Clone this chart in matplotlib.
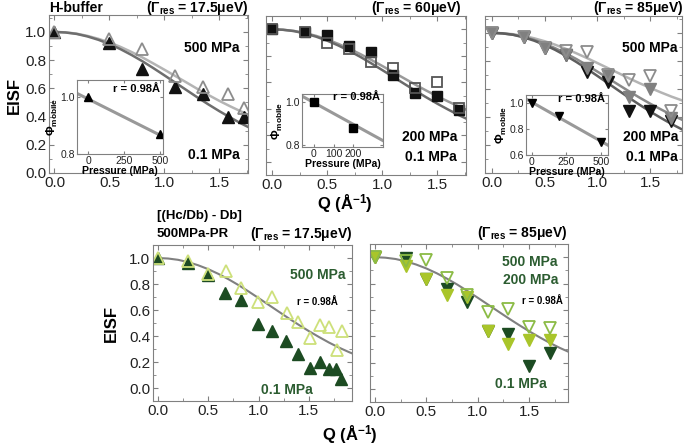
import matplotlib
matplotlib.use('Agg')
import matplotlib.pyplot as plt
from matplotlib.ticker import MultipleLocator, FormatStrFormatter

plt.rcParams['font.family'] = ['Liberation Sans', 'DejaVu Sans']
plt.rcParams['mathtext.fontset'] = 'custom'
plt.rcParams['mathtext.rm'] = 'Liberation Sans'
plt.rcParams['mathtext.bf'] = 'Liberation Sans:bold'
plt.rcParams['mathtext.it'] = 'Liberation Sans:italic'

# fitted EISF curves
q_fit = [0.0, 0.1, 0.2, 0.3, 0.4, 0.5, 0.6, 0.7, 0.8, 0.9, 1.0,
         1.1, 1.2, 1.3, 1.4, 1.5, 1.6, 1.7, 1.8, 1.9, 2.0]
fit_01 = [1.0, .996, .986, .968, .944, .914, .878, .837, .792, .743, .692,
          .640, .588, .536, .486, .438, .393, .350, .311, .276, .245]
fit_p1_500 = [1.0, .997, .988, .972, .951, .925, .894, .858, .819, .776, .732,
              .687, .642, .596, .553, .511, .472, .435, .401, .370, .343]
fit_200 = [1.0, .996, .987, .971, .950, .923, .890, .853, .813, .769, .723,
           .676, .629, .582, .537, .494, .454, .415, .380, .348, .321]
fit_p3_500 = [1.0, .997, .990, .978, .961, .940, .915, .886, .854, .820, .784,
              .748, .712, .675, .640, .607, .575, .545, .518, .493, .472]

# H-buffer, 17.5 ueV
p1_q = [0.0, 0.5, 0.8, 1.1, 1.35, 1.58, 1.72]
p1_500 = [1.0, 0.95, 0.88, 0.69, 0.61, 0.56, 0.46]
p1_01 = [1.0, 0.92, 0.74, 0.61, 0.56, 0.40, 0.40]

# H-buffer, 60 ueV
p2_q = [0.0, 0.3, 0.5, 0.7, 0.9, 1.1, 1.3, 1.5, 1.7]
p2_200 = [1.0, 0.98, 0.90, 0.85, 0.755, 0.705, 0.557, 0.60, 0.405]
p2_01 = [1.0, 0.98, 0.96, 0.87, 0.83, 0.654, 0.52, 0.494, 0.388]

# H-buffer, 85 ueV
p3_q = [0.0, 0.3, 0.5, 0.7, 0.9, 1.1, 1.3, 1.5, 1.7]
p3_500 = [1.0, 0.97, 0.89, 0.87, 0.86, 0.70, 0.66, 0.69, 0.44]
p3_200 = [1.0, 0.97, 0.89, 0.845, 0.75, 0.695, 0.544, 0.60, 0.39]
p3_01 = [1.0, 0.97, 0.89, 0.845, 0.72, 0.65, 0.44, 0.44, 0.37]

# insets: mobile fraction vs pressure
in1_p, in1_phi = [0, 500], [1.0, 0.87]
in1_line_p, in1_line = [-80, 520], [1.013, 0.861]
in2_p, in2_phi = [0, 200], [1.0, 0.88]
in2_line_p, in2_line = [-60, 350], [1.03, 0.82]
in3_p, in3_phi = [0, 200, 500], [1.0, 0.90, 0.70]
in3_line_p, in3_line = [-40, 550], [1.03, 0.675]

# [(Hc/Db) - Db] 500MPa-PR, 17.5 ueV
bl_q_500 = [0.0, 0.3, 0.5, 0.68, 0.83, 0.99, 1.13, 1.28, 1.39, 1.51, 1.61, 1.70, 1.78, 1.83]
bl_500 = [1.0, 0.98, 0.88, 0.90, 0.77, 0.665, 0.70, 0.575, 0.505, 0.385, 0.487, 0.47, 0.29, 0.437]
bl_q_01 = [0.0, 0.3, 0.5, 0.67, 0.83, 0.99, 1.13, 1.27, 1.39, 1.51, 1.61, 1.70, 1.77, 1.82]
bl_01 = [1.0, 0.96, 0.87, 0.73, 0.68, 0.495, 0.44, 0.36, 0.26, 0.157, 0.20, 0.145, 0.145, 0.07]

# [(Hc/Db) - Db] 500MPa-PR, 85 ueV
br_q = [0.0, 0.3, 0.5, 0.7, 0.9, 1.1, 1.3, 1.5, 1.7]
br_500 = [1.0, 0.97, 0.975, 0.84, 0.71, 0.58, 0.61, 0.47, 0.46]
br_200 = [1.0, 0.93, 0.835, 0.71, 0.70, 0.44, 0.34, 0.37, 0.37]
br_01 = [1.0, 0.99, 0.835, 0.76, 0.66, 0.44, 0.42, 0.17, 0.27]

W, H = 685, 446
GREY = '#808080'
DKGREEN = '#1c4b22'
TXTGREEN = '#2b5c30'


def rect(l, t, r, b):
    return [l / W, 1 - b / H, (r - l) / W, (b - t) / H]


def ftext(x, y, s, **kw):
    kw.setdefault('fontweight', 'bold')
    kw.setdefault('va', 'center')
    fig.text(x / W, 1 - y / H, s, **kw)


def style(ax, xlim, ylim, ylabels=True):
    ax.set_xlim(*xlim)
    ax.set_ylim(*ylim)
    ax.set_xticks([0, 0.5, 1.0, 1.5])
    ax.xaxis.set_minor_locator(MultipleLocator(0.25))
    ax.set_yticks([0, 0.2, 0.4, 0.6, 0.8, 1.0])
    ax.yaxis.set_minor_locator(MultipleLocator(0.1))
    ax.xaxis.set_major_formatter(FormatStrFormatter('%.1f'))
    ax.yaxis.set_major_formatter(FormatStrFormatter('%.1f'))
    ax.tick_params(which='both', direction='in', top=True, right=True,
                   color=GREY, labelsize=11, labelcolor='#222222', pad=2)
    ax.tick_params(which='major', length=3.5)
    ax.tick_params(which='minor', length=2)
    ax.tick_params(labelleft=ylabels)
    for s in ax.spines.values():
        s.set_color(GREY)


def inset(box, p, phi, lp, lv, xlim, ylim, xt, yt, marker):
    ax = fig.add_axes(rect(*box))
    ax.plot(lp, lv, color='#999999', lw=2.2)
    ax.plot(p, phi, marker, color='black', ms=6, ls='none')
    ax.set_xlim(*xlim)
    ax.set_ylim(*ylim)
    ax.set_xticks(xt)
    ax.set_yticks(yt)
    ax.yaxis.set_major_formatter(FormatStrFormatter('%.1f'))
    ax.tick_params(direction='in', top=True, right=True, color=GREY,
                   labelsize=7.5, labelcolor='#222222', length=2.5, pad=1.5)
    for s in ax.spines.values():
        s.set_color(GREY)
    ax.set_xlabel('Pressure (MPa)', fontsize=7.5, fontweight='bold', labelpad=0)
    ax.set_ylabel(r'$\mathbf{\Phi_{mobile}}$', fontsize=8.5, labelpad=0)
    return ax


fig = plt.figure(figsize=(W / 100, H / 100), dpi=100)

# ---- top left: 17.5 ueV
ax1 = fig.add_axes(rect(49, 15, 248, 173))
ax1.plot(q_fit, fit_p1_500, color='#b4b4b4', lw=1.8)
ax1.plot(q_fit, fit_01, color='#6e6e6e', lw=1.8)
ax1.plot(p1_q, p1_01, '^', color='#111111', ms=9, ls='none')
ax1.plot(p1_q, p1_500, '^', mfc='none', mec='#8c8c8c', mew=1.3, ms=9, ls='none')
style(ax1, (-0.05, 1.76), (0, 1.12))
inset((77, 80, 163, 154), in1_p, in1_phi, in1_line_p, in1_line,
      (-80, 520), (0.8, 1.06), [0, 250, 500], [0.8, 1.0], '^')

# ---- top middle: 60 ueV
ax2 = fig.add_axes(rect(266, 16, 466, 175))
ax2.plot(q_fit, fit_200, color='#9a9a9a', lw=1.8)
ax2.plot(q_fit, fit_01, color='#6a6a6a', lw=1.8)
ax2.plot(p2_q, p2_01, 's', color='#111111', ms=7.5, ls='none')
ax2.plot(p2_q, p2_200, 's', mfc='none', mec='#555555', mew=1.3, ms=7.5, ls='none')
style(ax2, (-0.055, 1.76), (-0.1, 1.1), ylabels=False)
inset((302, 94, 383, 147), in2_p, in2_phi, in2_line_p, in2_line,
      (-60, 350), (0.79, 1.04), [0, 100, 200], [0.8, 1.0], 's')

# ---- top right: 85 ueV
ax3 = fig.add_axes(rect(485, 16, 682, 173))
ax3.plot(q_fit, fit_p3_500, color='#b4b4b4', lw=1.8)
ax3.plot(q_fit, fit_200, color='#8a8a8a', lw=1.8)
ax3.plot(q_fit, fit_01, color='#5e5e5e', lw=1.8)
ax3.plot(p3_q, p3_01, 'v', color='#111111', ms=9, ls='none')
ax3.plot(p3_q, p3_200, 'v', color='#808080', ms=9, ls='none')
ax3.plot(p3_q, p3_500, 'v', mfc='none', mec='#8c8c8c', mew=1.3, ms=9, ls='none')
style(ax3, (-0.065, 1.8), (0, 1.12), ylabels=False)
inset((526, 95, 608, 155), in3_p, in3_phi, in3_line_p, in3_line,
      (-40, 550), (0.6, 1.06), [0, 250, 500], [0.6, 0.8, 1.0], 'v')

# ---- bottom left
ax4 = fig.add_axes(rect(153, 245, 352, 401))
ax4.plot(q_fit, fit_01, color='#808080', lw=1.5)
ax4.plot(bl_q_01, bl_01, '^', color=DKGREEN, ms=8.5, ls='none')
ax4.plot(bl_q_500, bl_500, '^', mfc='none', mec='#cde07a', mew=1.3, ms=8.5, ls='none')
style(ax4, (-0.05, 1.93), (-0.1, 1.1))

# ---- bottom right
ax5 = fig.add_axes(rect(370, 244, 568, 402))
ax5.plot(q_fit, fit_01, color='#808080', lw=1.5)
ax5.plot(br_q, br_01, 'v', color=DKGREEN, ms=8.5, ls='none')
ax5.plot(br_q, br_200, 'v', color='#a9c52a', ms=8.5, ls='none')
ax5.plot(br_q, br_500, 'v', mfc='none', mec='#8bbb45', mew=1.3, ms=8.5, ls='none')
style(ax5, (-0.05, 1.88), (-0.1, 1.1), ylabels=False)

# ---- texts
ftext(49, 8, 'H-buffer', fontsize=10)
ftext(248, 8, r'($\mathbf{\Gamma_{res}}$ = 17.5μeV)', fontsize=10, ha='right')
ftext(462, 8, r'($\mathbf{\Gamma_{res}}$ = 60μeV)', fontsize=10, ha='right')
ftext(684, 8, r'($\mathbf{\Gamma_{res}}$ = 85μeV)', fontsize=10, ha='right')

ftext(240, 48, '500 MPa', fontsize=10, ha='right')
ftext(240, 155, '0.1 MPa', fontsize=10, ha='right')
ftext(457, 137, '200 MPa', fontsize=10, ha='right')
ftext(457, 157, '0.1 MPa', fontsize=10, ha='right')
ftext(678, 48, '500 MPa', fontsize=10, ha='right')
ftext(678, 137, '200 MPa', fontsize=10, ha='right')
ftext(678, 157, '0.1 MPa', fontsize=10, ha='right')

ftext(160, 89, 'r = 0.98Å', fontsize=8, ha='right')
ftext(380, 97, 'r = 0.98Å', fontsize=8, ha='right')
ftext(605, 99, 'r = 0.98Å', fontsize=8, ha='right')

ftext(14, 95, 'EISF', fontsize=12, rotation=90, ha='center')
ftext(111, 324, 'EISF', fontsize=12, rotation=90, ha='center')
ftext(345, 204, r'Q (Å$\mathbf{^{-1}}$)', fontsize=12, ha='center')
ftext(350, 435, r'Q (Å$\mathbf{^{-1}}$)', fontsize=12, ha='center')

ftext(157, 216, '[(Hc/Db) - Db]', fontsize=9.5)
ftext(157, 234, '500MPa-PR', fontsize=9.5)
ftext(352, 234, r'($\mathbf{\Gamma_{res}}$ = 17.5μeV)', fontsize=10, ha='right')
ftext(568, 233, r'($\mathbf{\Gamma_{res}}$ = 85μeV)', fontsize=10, ha='right')

ftext(345, 275, '500 MPa', fontsize=10, ha='right', color=TXTGREEN)
ftext(338, 302, 'r = 0.98Å', fontsize=7, ha='right')
ftext(287, 390, '0.1 MPa', fontsize=10, ha='center', color=TXTGREEN)
ftext(557, 262, '500 MPa', fontsize=10, ha='right', color=TXTGREEN)
ftext(558, 280, '200 MPa', fontsize=10, ha='right', color=TXTGREEN)
ftext(563, 301, 'r = 0.98Å', fontsize=7, ha='right')
ftext(521, 384, '0.1 MPa', fontsize=10, ha='center', color=TXTGREEN)

fig.savefig('out.png', dpi=100)
